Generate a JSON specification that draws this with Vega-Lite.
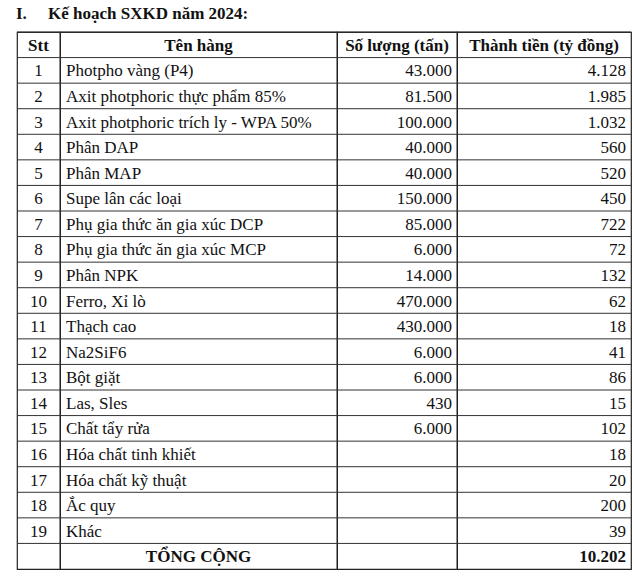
{
  "$schema": "https://vega.github.io/schema/vega-lite/v6.json",
  "padding": {"left": 15, "top": 4, "right": 4, "bottom": 12},
  "background": "white",
  "bounds": "flush",
  "title": {"text": "I.\u00a0\u00a0\u00a0\u00a0\u00a0Kế hoạch SXKD năm 2024:", "anchor": "start", "font": "Liberation Serif", "fontSize": 17, "fontWeight": "bold", "color": "#111", "offset": 8, "frame": "bounds"},
  "datasets": {
    "rows": [
      {"r": 0, "kind": "header", "stt": "Stt", "ten": "Tên hàng", "sl": "Số lượng (tấn)", "tt": "Thành tiền (tỷ đồng)"},
      {"r": 1, "kind": "item", "stt": "1", "ten": "Photpho vàng (P4)", "sl": "43.000", "tt": "4.128"},
      {"r": 2, "kind": "item", "stt": "2", "ten": "Axit photphoric thực phẩm 85%", "sl": "81.500", "tt": "1.985"},
      {"r": 3, "kind": "item", "stt": "3", "ten": "Axit photphoric trích ly - WPA 50%", "sl": "100.000", "tt": "1.032"},
      {"r": 4, "kind": "item", "stt": "4", "ten": "Phân DAP", "sl": "40.000", "tt": "560"},
      {"r": 5, "kind": "item", "stt": "5", "ten": "Phân MAP", "sl": "40.000", "tt": "520"},
      {"r": 6, "kind": "item", "stt": "6", "ten": "Supe lân các loại", "sl": "150.000", "tt": "450"},
      {"r": 7, "kind": "item", "stt": "7", "ten": "Phụ gia thức ăn gia xúc DCP", "sl": "85.000", "tt": "722"},
      {"r": 8, "kind": "item", "stt": "8", "ten": "Phụ gia thức ăn gia xúc MCP", "sl": "6.000", "tt": "72"},
      {"r": 9, "kind": "item", "stt": "9", "ten": "Phân NPK", "sl": "14.000", "tt": "132"},
      {"r": 10, "kind": "item", "stt": "10", "ten": "Ferro, Xỉ lò", "sl": "470.000", "tt": "62"},
      {"r": 11, "kind": "item", "stt": "11", "ten": "Thạch cao", "sl": "430.000", "tt": "18"},
      {"r": 12, "kind": "item", "stt": "12", "ten": "Na2SiF6", "sl": "6.000", "tt": "41"},
      {"r": 13, "kind": "item", "stt": "13", "ten": "Bột giặt", "sl": "6.000", "tt": "86"},
      {"r": 14, "kind": "item", "stt": "14", "ten": "Las, Sles", "sl": "430", "tt": "15"},
      {"r": 15, "kind": "item", "stt": "15", "ten": "Chất tẩy rửa", "sl": "6.000", "tt": "102"},
      {"r": 16, "kind": "item", "stt": "16", "ten": "Hóa chất tinh khiết", "sl": "", "tt": "18"},
      {"r": 17, "kind": "item", "stt": "17", "ten": "Hóa chất kỹ thuật", "sl": "", "tt": "20"},
      {"r": 18, "kind": "item", "stt": "18", "ten": "Ắc quy", "sl": "", "tt": "200"},
      {"r": 19, "kind": "item", "stt": "19", "ten": "Khác", "sl": "", "tt": "39"},
      {"r": 20, "kind": "total", "stt": "", "ten": "TỔNG CỘNG", "sl": "", "tt": "10.202"}
    ]
  },
  "data": {"name": "rows"},
  "spacing": 0,
  "hconcat": [
    {
      "width": 43, "height": 537,
      "encoding": {"y": {"field": "r", "type": "ordinal", "scale": {"domain": [0,1,2,3,4,5,6,7,8,9,10,11,12,13,14,15,16,17,18,19,20], "paddingInner": 0, "paddingOuter": 0}, "axis": null}},
      "layer": [
        {"mark": {"type": "rule", "color": "#333", "strokeWidth": 1}, "encoding": {"y": {"field": "r", "type": "ordinal", "bandPosition": 0, "axis": null}}},
        {"transform": [{"filter": "datum.kind == 'header'"}], "mark": {"type": "text", "fontWeight": "bold"}, "encoding": {"text": {"field": "stt"}}},
        {"transform": [{"filter": "datum.kind != 'header'"}], "mark": {"type": "text"}, "encoding": {"text": {"field": "stt"}}}
      ]
    },
    {
      "width": 277, "height": 537,
      "encoding": {"y": {"field": "r", "type": "ordinal", "scale": {"domain": [0,1,2,3,4,5,6,7,8,9,10,11,12,13,14,15,16,17,18,19,20], "paddingInner": 0, "paddingOuter": 0}, "axis": null}},
      "layer": [
        {"mark": {"type": "rule", "color": "#333", "strokeWidth": 1}, "encoding": {"y": {"field": "r", "type": "ordinal", "bandPosition": 0, "axis": null}}},
        {"transform": [{"filter": "datum.kind != 'item'"}], "mark": {"type": "text", "fontWeight": "bold"}, "encoding": {"text": {"field": "ten"}}},
        {"transform": [{"filter": "datum.kind == 'item'"}], "mark": {"type": "text", "align": "left", "x": 0, "dx": 6}, "encoding": {"text": {"field": "ten"}}}
      ]
    },
    {
      "width": 120, "height": 537,
      "encoding": {"y": {"field": "r", "type": "ordinal", "scale": {"domain": [0,1,2,3,4,5,6,7,8,9,10,11,12,13,14,15,16,17,18,19,20], "paddingInner": 0, "paddingOuter": 0}, "axis": null}},
      "layer": [
        {"mark": {"type": "rule", "color": "#333", "strokeWidth": 1}, "encoding": {"y": {"field": "r", "type": "ordinal", "bandPosition": 0, "axis": null}}},
        {"transform": [{"filter": "datum.kind == 'header'"}], "mark": {"type": "text", "fontWeight": "bold"}, "encoding": {"text": {"field": "sl"}}},
        {"transform": [{"filter": "datum.kind != 'header'"}], "mark": {"type": "text", "align": "right", "x": "width", "dx": -5}, "encoding": {"text": {"field": "sl"}}}
      ]
    },
    {
      "width": 174, "height": 537,
      "encoding": {"y": {"field": "r", "type": "ordinal", "scale": {"domain": [0,1,2,3,4,5,6,7,8,9,10,11,12,13,14,15,16,17,18,19,20], "paddingInner": 0, "paddingOuter": 0}, "axis": null}},
      "layer": [
        {"mark": {"type": "rule", "color": "#333", "strokeWidth": 1}, "encoding": {"y": {"field": "r", "type": "ordinal", "bandPosition": 0, "axis": null}}},
        {"transform": [{"filter": "datum.kind == 'header'"}], "mark": {"type": "text", "fontWeight": "bold"}, "encoding": {"text": {"field": "tt"}}},
        {"transform": [{"filter": "datum.kind == 'item'"}], "mark": {"type": "text", "align": "right", "x": "width", "dx": -5}, "encoding": {"text": {"field": "tt"}}},
        {"transform": [{"filter": "datum.kind == 'total'"}], "mark": {"type": "text", "align": "right", "fontWeight": "bold", "x": "width", "dx": -5}, "encoding": {"text": {"field": "tt"}}}
      ]
    }
  ],
  "config": {
    "font": "Liberation Serif",
    "view": {"stroke": "#222", "strokeWidth": 1.2},
    "text": {"font": "Liberation Serif", "fontSize": 17, "color": "#111", "baseline": "middle", "dy": 1}
  }
}
